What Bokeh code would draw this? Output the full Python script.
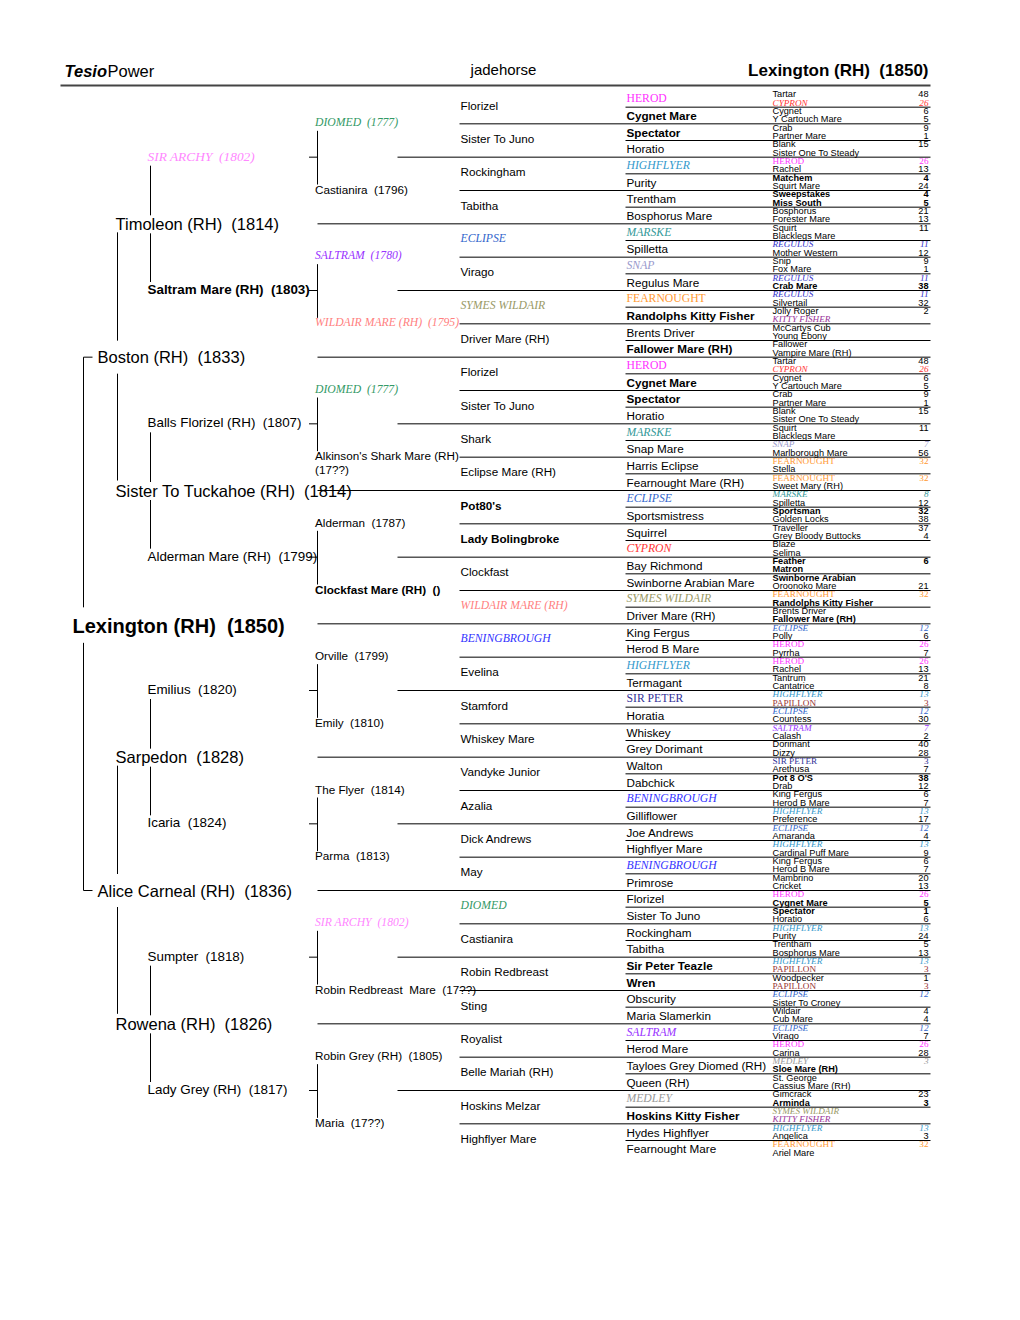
from bokeh.plotting import figure
from bokeh.models import ColumnDataSource, Range1d
from bokeh.core.properties import value
from bokeh.embed import file_html
from bokeh.resources import INLINE

# ---------------- data ----------------
header_bold = "Tesio"
header_rest = "Power"
header_center = "jadehorse"
subject = "Lexington (RH)  (1850)"

gen1 = ["Boston (RH)  (1833)", "Alice Carneal (RH)  (1836)"]
gen2 = ["Timoleon (RH)  (1814)", "Sister To Tuckahoe (RH)  (1814)",
        "Sarpedon  (1828)", "Rowena (RH)  (1826)"]
gen3 = ["SIR ARCHY  (1802)", "Saltram Mare (RH)  (1803)", "Balls Florizel (RH)  (1807)",
        "Alderman Mare (RH)  (1799)", "Emilius  (1820)", "Icaria  (1824)",
        "Sumpter  (1818)", "Lady Grey (RH)  (1817)"]
gen4 = ["DIOMED  (1777)", "Castianira  (1796)", "SALTRAM  (1780)", "WILDAIR MARE (RH)  (1795)",
        "DIOMED  (1777)", "Alkinson's Shark Mare (RH)\n(17??)", "Alderman  (1787)",
        "Clockfast Mare (RH)  ()", "Orville  (1799)", "Emily  (1810)", "The Flyer  (1814)",
        "Parma  (1813)", "SIR ARCHY  (1802)", "Robin Redbreast  Mare  (17??)",
        "Robin Grey (RH)  (1805)", "Maria  (17??)"]
gen5 = ["Florizel", "Sister To Juno", "Rockingham", "Tabitha", "ECLIPSE", "Virago",
        "SYMES WILDAIR", "Driver Mare (RH)", "Florizel", "Sister To Juno", "Shark",
        "Eclipse Mare (RH)", "Pot80's", "Lady Bolingbroke", "Clockfast", "WILDAIR MARE (RH)",
        "BENINGBROUGH", "Evelina", "Stamford", "Whiskey Mare", "Vandyke Junior", "Azalia",
        "Dick Andrews", "May", "DIOMED", "Castianira", "Robin Redbreast", "Sting",
        "Royalist", "Belle Mariah (RH)", "Hoskins Melzar", "Highflyer Mare"]
gen6 = ["HEROD", "Cygnet Mare", "Spectator", "Horatio", "HIGHFLYER", "Purity", "Trentham",
        "Bosphorus Mare", "MARSKE", "Spilletta", "SNAP", "Regulus Mare", "FEARNOUGHT",
        "Randolphs Kitty Fisher", "Brents Driver", "Fallower Mare (RH)",
        "HEROD", "Cygnet Mare", "Spectator", "Horatio", "MARSKE", "Snap Mare",
        "Harris Eclipse", "Fearnought Mare (RH)", "ECLIPSE", "Sportsmistress", "Squirrel",
        "CYPRON", "Bay Richmond", "Swinborne Arabian Mare", "SYMES WILDAIR", "Driver Mare (RH)",
        "King Fergus", "Herod B Mare", "HIGHFLYER", "Termagant", "SIR PETER", "Horatia",
        "Whiskey", "Grey Dorimant", "Walton", "Dabchick", "BENINGBROUGH", "Gilliflower",
        "Joe Andrews", "Highflyer Mare", "BENINGBROUGH", "Primrose",
        "Florizel", "Sister To Juno", "Rockingham", "Tabitha", "Sir Peter Teazle", "Wren",
        "Obscurity", "Maria Slamerkin", "SALTRAM", "Herod Mare", "Tayloes Grey Diomed (RH)",
        "Queen (RH)", "MEDLEY", "Hoskins Kitty Fisher", "Hydes Highflyer", "Fearnought Mare"]
gen7 = ["Tartar", "CYPRON", "Cygnet", "Y Cartouch Mare", "Crab", "Partner Mare",
        "Blank", "Sister One To Steady", "HEROD", "Rachel", "Matchem", "Squirt Mare",
        "Sweepstakes", "Miss South", "Bosphorus", "Forester Mare", "Squirt", "Blacklegs Mare",
        "REGULUS", "Mother Western", "Snip", "Fox Mare", "REGULUS", "Crab Mare",
        "REGULUS", "Silvertail", "Jolly Roger", "KITTY FISHER", "McCartys Cub", "Young Ebony",
        "Fallower", "Vampire Mare (RH)",
        "Tartar", "CYPRON", "Cygnet", "Y Cartouch Mare", "Crab", "Partner Mare",
        "Blank", "Sister One To Steady", "Squirt", "Blacklegs Mare", "SNAP", "Marlborough Mare",
        "FEARNOUGHT", "Stella", "FEARNOUGHT", "Sweet Mary (RH)", "MARSKE", "Spilletta",
        "Sportsman", "Golden Locks", "Traveller", "Grey Bloody Buttocks", "Blaze", "Selima",
        "Feather", "Matron", "Swinborne Arabian", "Oroonoko Mare", "FEARNOUGHT",
        "Randolphs Kitty Fisher", "Brents Driver", "Fallower Mare (RH)",
        "ECLIPSE", "Polly", "HEROD", "Pyrrha", "HEROD", "Rachel", "Tantrum", "Cantatrice",
        "HIGHFLYER", "PAPILLON", "ECLIPSE", "Countess", "SALTRAM", "Calash", "Dorimant", "Dizzy",
        "SIR PETER", "Arethusa", "Pot 8 O'S", "Drab", "King Fergus", "Herod B Mare",
        "HIGHFLYER", "Preference", "ECLIPSE", "Amaranda", "HIGHFLYER", "Cardinal Puff Mare",
        "King Fergus", "Herod B Mare", "Mambrino", "Cricket",
        "HEROD", "Cygnet Mare", "Spectator", "Horatio", "HIGHFLYER", "Purity", "Trentham",
        "Bosphorus Mare", "HIGHFLYER", "PAPILLON", "Woodpecker", "PAPILLON", "ECLIPSE",
        "Sister To Croney", "Wildair", "Cub Mare", "ECLIPSE", "Virago", "HEROD", "Carina",
        "MEDLEY", "Sloe Mare (RH)", "St. George", "Cassius Mare (RH)", "Gimcrack", "Arminda",
        "SYMES WILDAIR", "KITTY FISHER", "HIGHFLYER", "Angelica", "FEARNOUGHT", "Ariel Mare"]
gen7_counts = [48, 26, 6, 5, 9, 1, 15, None, 26, 13, 4, 24, 4, 5, 21, 13, 11, None,
               11, 12, 9, 1, 11, 38, 11, 32, 2, None, None, None, None, None,
               48, 26, 6, 5, 9, 1, 15, None, 11, None, 7, 56, 32, None, 32, None, 8, 12,
               32, 38, 37, 4, None, None, 6, None, None, 21, 32, None, None, None,
               12, 6, 26, 7, 26, 13, 21, 8, 13, 3, 12, 30, 7, 2, 40, 28,
               3, 7, 38, 12, 6, 7, 13, 17, 12, 4, 13, 9, 6, 7, 20, 13,
               26, 5, 1, 6, 13, 24, 5, 13, 13, 3, 1, 3, 12, None, 4, 4,
               12, 7, 26, 28, 3, None, None, None, 23, 3, None, None, 13, 3, 32, None]

# name styles: (colour, font style) for serif-set names
special = {
    "WILDAIR MARE (RH)": ("#FF7F7F", "italic"),
    "SYMES WILDAIR": ("#999966", "italic"),
    "KITTY FISHER": ("#993399", "italic"),
    "BENINGBROUGH": ("#3333FF", "italic"),
    "FEARNOUGHT": ("#FF9933", "normal"),
    "HIGHFLYER": ("#3399CC", "italic"),
    "SIR ARCHY": ("#FF88FF", "italic"),
    "SIR PETER": ("#333399", "normal"),
    "PAPILLON": ("#993333", "normal"),
    "REGULUS": ("#3333CC", "italic"),
    "SALTRAM": ("#9933FF", "italic"),
    "ECLIPSE": ("#3366CC", "italic"),
    "CYPRON": ("#FF3333", "italic"),
    "MARSKE": ("#339999", "italic"),
    "MEDLEY": ("#999999", "italic"),
    "DIOMED": ("#339966", "italic"),
    "HEROD": ("#FF33FF", "normal"),
    "SNAP": ("#9999CC", "italic"),
}
bold_names = {"Cygnet Mare", "Spectator", "Randolphs Kitty Fisher", "Fallower Mare (RH)",
              "Matchem", "Sweepstakes", "Miss South", "Crab Mare", "Pot80's",
              "Lady Bolingbroke", "Saltram Mare (RH)  (1803)", "Clockfast Mare (RH)  ()",
              "Sportsman", "Feather", "Matron", "Swinborne Arabian", "Pot 8 O'S",
              "Sir Peter Teazle", "Wren", "Sloe Mare (RH)", "Arminda", "Hoskins Kitty Fisher"}

# ---------------- layout ----------------
SANS = "Liberation Sans"
SERIF = "Liberation Serif"
W, H = 1004, 1304
TOP = 90.0
ROW = 1066.67 / 64
RIGHT = 930
col_x = {1: 97, 2: 115, 3: 147, 4: 314.5, 5: 460, 6: 626, 7: 772}
col_size = {1: 16.5, 2: 16.5, 3: 13.4, 4: 11.7, 5: 11.7, 6: 11.7, 7: 9.2}
col_dy = {1: 0, 2: 0, 3: -1, 4: -1.5, 5: -2, 6: 0, 7: -0.5}
NUM_X = 928


def cy(n, i):
    return TOP + (i + 0.5) * (64 * ROW / n)


def keep_spaces(s):
    return s.replace("  ", " \u00a0")


def style_of(label):
    for k, v in special.items():
        if label == k or label.startswith(k + " "):
            return SERIF, v[1], v[0]
    if label in bold_names:
        return SANS, "bold", "#000000"
    return SANS, "normal", "#000000"


L = dict(x=[], y=[], text=[], font=[], size=[], style=[], color=[])
R = dict(x=[], y=[], text=[], font=[], size=[], style=[], color=[])


def put(d, x, y, s, size, key=None):
    font, st, color = style_of(key if key is not None else s)
    d["x"].append(x); d["y"].append(y); d["text"].append(keep_spaces(s))
    d["font"].append(font); d["size"].append("%.1fpx" % size)
    d["style"].append(st); d["color"].append(color)


gens = {1: gen1, 2: gen2, 3: gen3, 4: gen4, 5: gen5, 6: gen6}
for g, names in gens.items():
    n = len(names)
    for i, name in enumerate(names):
        lines = name.split("\n")
        for k, ln in enumerate(lines):
            put(L, col_x[g], cy(n, i) + col_dy[g] + k * 13.5, ln, col_size[g], key=lines[0])

for j, name in enumerate(gen7):
    y = cy(128, j) + col_dy[7]
    put(L, col_x[7], y, name, col_size[7])
    c = gen7_counts[j]
    if c is not None:
        put(R, NUM_X, y, str(c), col_size[7], key=name)

# separator lines
sx0, sy0, sx1, sy1 = [], [], [], []
for b in range(1, 64):
    y = TOP + b * ROW
    if b % 2 == 1:
        x0 = 625
    elif b % 4 == 2:
        x0 = 459
    elif b % 8 == 4:
        x0 = 397
    else:
        x0 = 317
    sx0.append(x0); sx1.append(RIGHT); sy0.append(y); sy1.append(y)

# connectors
vx0, vy0, vx1, vy1 = [], [], [], []


def seg(x0, y0, x1, y1):
    vx0.append(x0); vy0.append(y0); vx1.append(x1); vy1.append(y1)


for q in range(8):
    ys, yd = cy(16, 2 * q), cy(16, 2 * q + 1)
    seg(317, ys + 7, 317, yd - 6)
    seg(308.5, cy(8, q), 317, cy(8, q))
for q in range(4):
    ys, yd, yc = cy(8, 2 * q), cy(8, 2 * q + 1), cy(4, q)
    seg(150, ys + 8.5, 150, yc - 8.5)
    seg(150, yc + 9.5, 150, yd - 8.5)
for q in range(2):
    ys, yd, yc = cy(4, 2 * q), cy(4, 2 * q + 1), cy(2, q)
    seg(117, ys + 8.5, 117, yc - 16.5)
    seg(117, yc + 16.5, 117, yd - 10)
ys, yd, yc = cy(2, 0), cy(2, 1), cy(1, 0)
seg(83, ys, 83, yc - 16.5)
seg(83, yc + 19, 83, yd)
seg(83, ys, 92, ys)
seg(83, yd, 92, yd)

# ---------------- figure ----------------
p = figure(width=W, height=H, x_range=Range1d(0, W), y_range=Range1d(H, 0),
           output_backend="svg", toolbar_location=None, min_border=0,
           x_axis_location=None, y_axis_location=None)
p.outline_line_color = None
p.grid.visible = False

p.segment(x0=[60], y0=[85], x1=[RIGHT], y1=[85], line_color="#444444", line_width=2)
p.segment(x0=sx0, y0=sy0, x1=sx1, y1=sy1, line_color="#000000", line_width=1)
p.segment(x0=vx0, y0=vy0, x1=vx1, y1=vy1, line_color="#000000", line_width=1)

p.text(x="x", y="y", text="text", text_font="font", text_font_size="size",
       text_font_style="style", text_color="color", text_align="left",
       text_baseline="middle", source=ColumnDataSource(L))
p.text(x="x", y="y", text="text", text_font="font", text_font_size="size",
       text_font_style="style", text_color="color", text_align="right",
       text_baseline="middle", source=ColumnDataSource(R))

# header and subject
p.text(x=[64], y=[70], text=[header_bold], text_font=value(SANS), text_font_size="16.5px",
       text_font_style="bold italic", text_color="#000000", text_baseline="middle")
p.text(x=[107], y=[70], text=[header_rest], text_font=value(SANS), text_font_size="16.5px",
       text_color="#000000", text_baseline="middle")
p.text(x=[503], y=[69], text=[header_center], text_font=value(SANS), text_font_size="15px",
       text_color="#000000", text_align="center", text_baseline="middle")
p.text(x=[928], y=[70], text=[keep_spaces(subject)], text_font=value(SANS), text_font_size="17px",
       text_font_style="bold", text_color="#000000", text_align="right", text_baseline="middle")
p.text(x=[72], y=[cy(1, 0) + 2], text=[keep_spaces(subject)], text_font=value(SANS),
       text_font_size="20px", text_font_style="bold", text_color="#000000",
       text_baseline="middle")

open("out.html", "w").write(file_html(p, INLINE))
